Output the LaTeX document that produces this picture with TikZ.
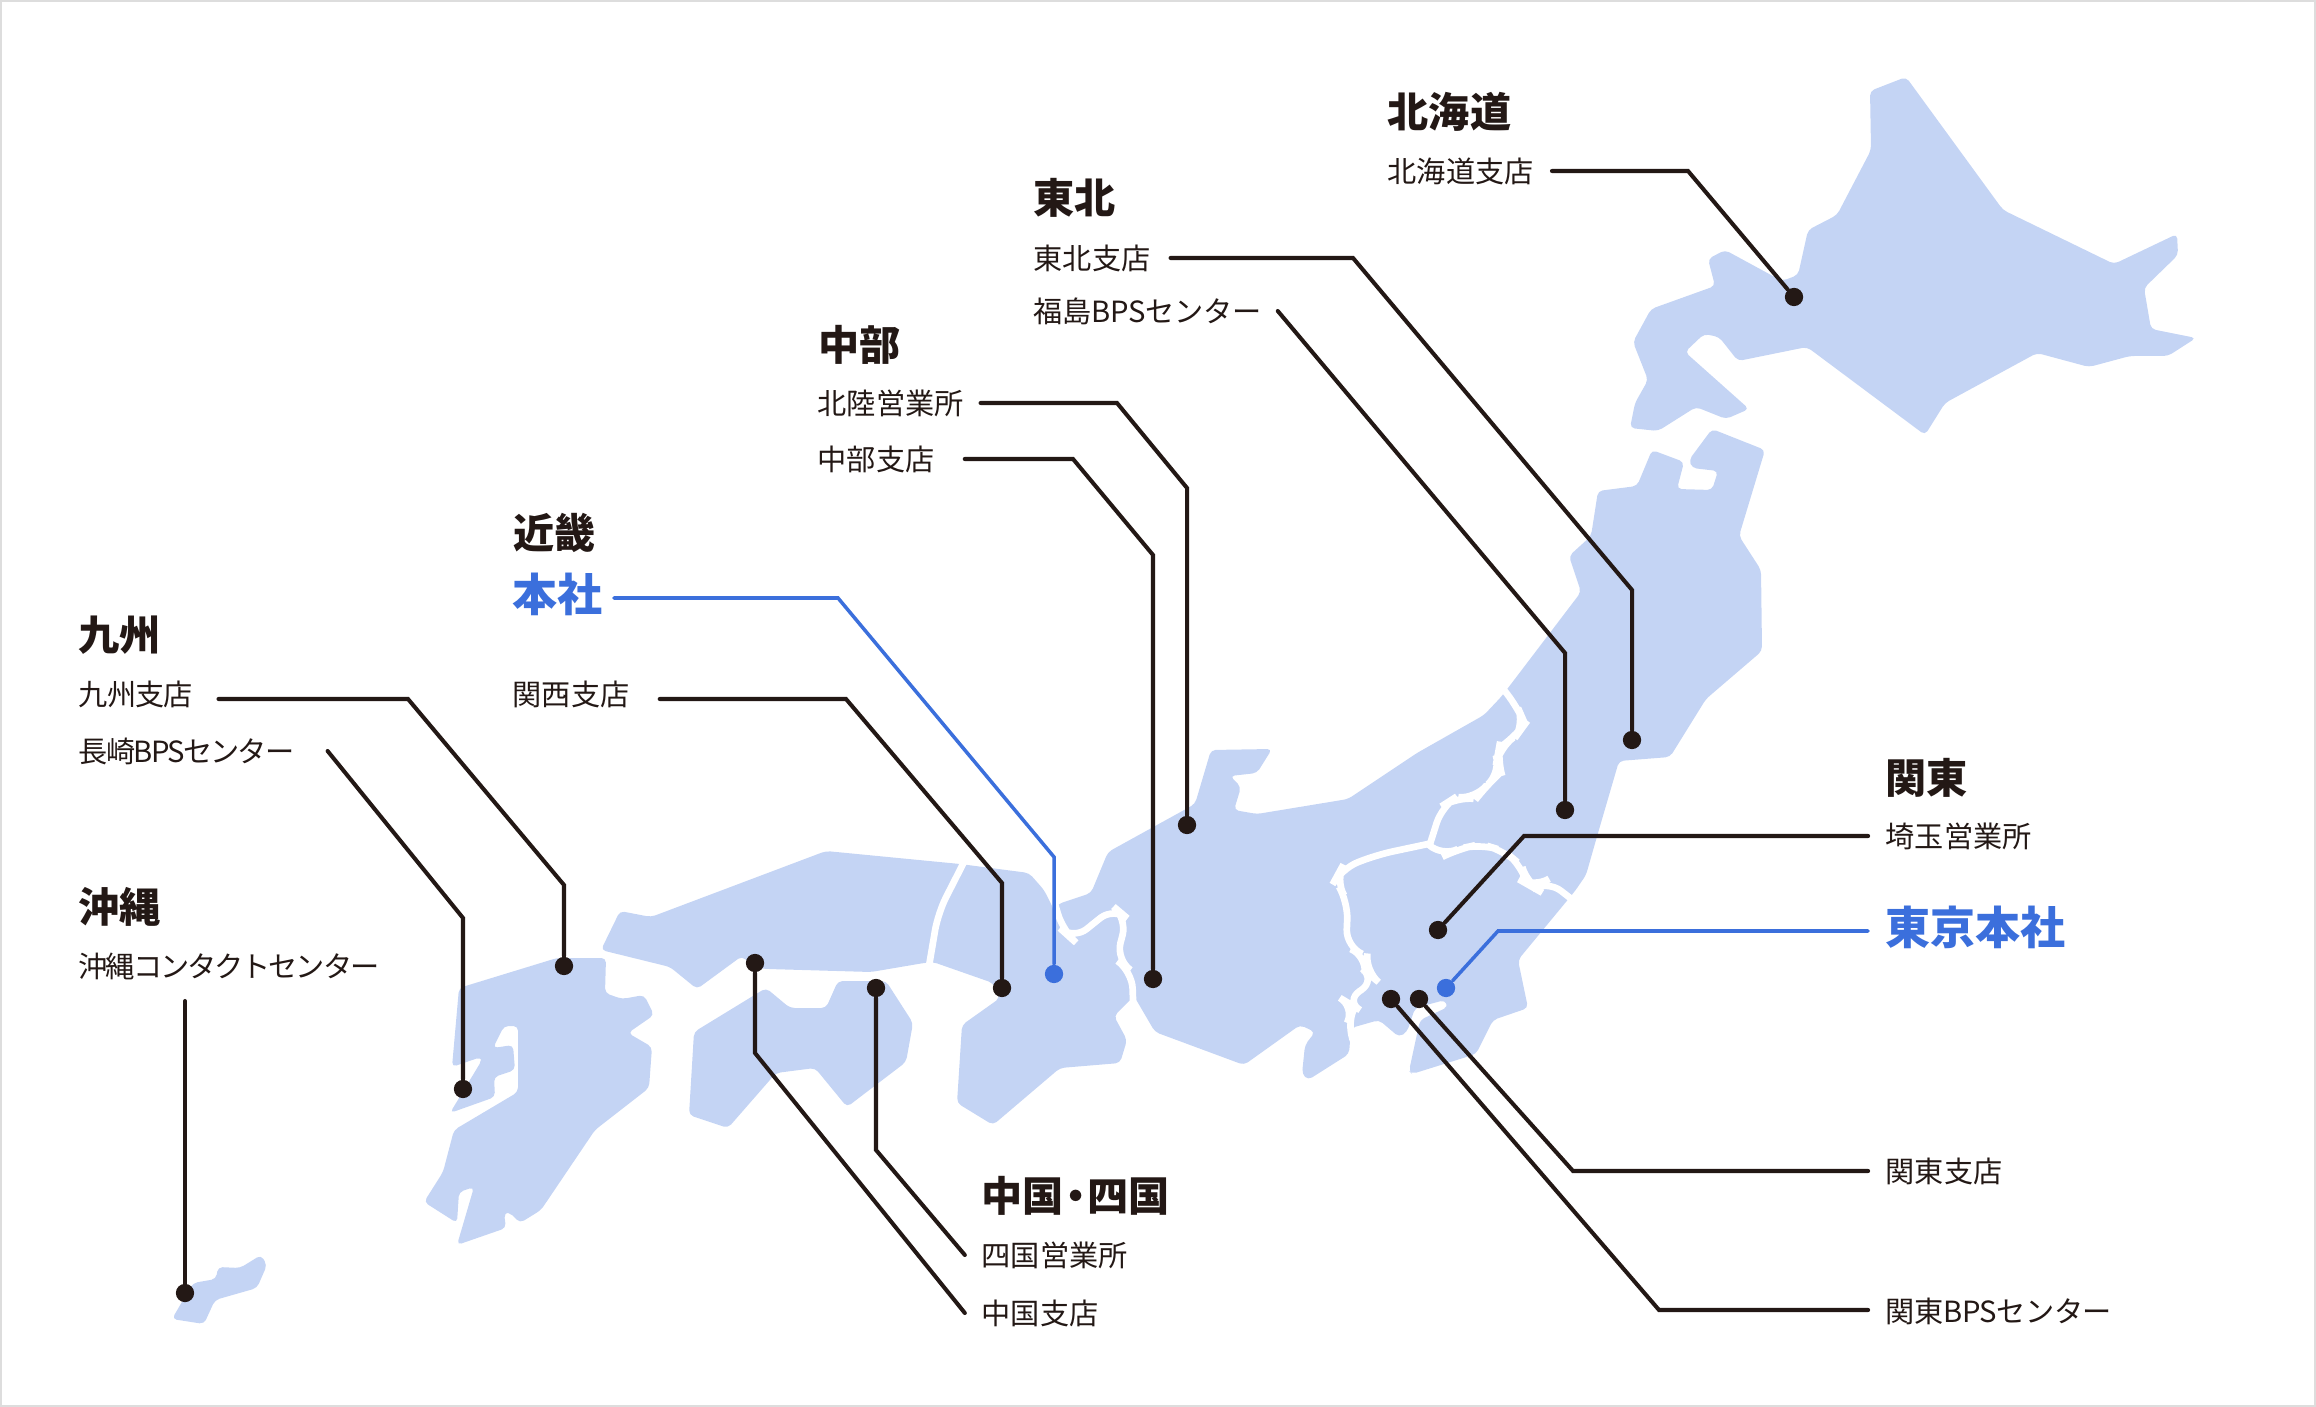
\documentclass[tikz,border=0pt]{standalone}
\usepackage{fontspec}
\setmainfont{Noto Sans CJK JP}
\newfontfamily\boldjp[BoldFont={Noto Sans CJK JP Bold}]{Noto Sans CJK JP}
\definecolor{ink1}{HTML}{231815}
\definecolor{blue1}{HTML}{3B6FDC}
\definecolor{land1}{HTML}{C4D4F4}
\definecolor{frame1}{HTML}{DDDDDD}
\newcommand{\officefont}{\fontsize{8.3}{10}\selectfont}
\tikzset{
  land/.style={fill=land1, rounded corners=1.3pt},
  border/.style={draw=white, line width=1.9pt, rounded corners=5pt, line cap=round},
  dot/.style={circle, fill=ink1, inner sep=0pt, minimum size=5.2pt},
  bluedot/.style={dot, fill=blue1},
  leader/.style={draw=ink1, line width=1.15pt, line cap=round},
  blueleader/.style={draw=blue1, line width=1pt, line cap=round},
  area/.style={anchor=west, inner sep=0pt, text=ink1, font=\fontsize{11.7}{14}\bfseries},
  office/.style={anchor=west, inner sep=0pt, text=ink1, text height=8pt, text depth=1.6pt, font=\officefont},
  main/.style={anchor=west, inner sep=0pt, text=blue1, text height=12pt, text depth=4.4pt, font=\fontsize{12.8}{15}\bfseries},
}
\begin{document}
\begin{tikzpicture}[x=0.01cm, y=-0.01cm]
  \useasboundingbox (0,0) rectangle (2316,1407);
  \draw[frame1, line width=.57pt] (1,1) rectangle (2315,1406);

  % hokkaido
  \path[land] (1906,77) -- (1870,91) -- (1871,150) -- (1837,215) -- (1808,230) -- (1798,275) -- (1782,281)
    -- (1725,250) -- (1708,259) -- (1715,286) -- (1651,309) -- (1633,342) -- (1648,380) -- (1635,403)
    -- (1630,428) -- (1658,431) -- (1696,407) -- (1726,419) -- (1749,409) -- (1685,352) -- (1704,334)
    -- (1719,337) -- (1738,361) -- (1807,347) -- (1925,435) -- (1945,403) -- (2037,353) -- (2089,367)
    -- (2130,356) -- (2168,356) -- (2196,338) -- (2151,329) -- (2144,288) -- (2178,255) -- (2177,234)
    -- (2114,264) -- (2003,210) -- cycle;
  % honshu
  \path[land] (1712,429) -- (1765,450) -- (1739,536) -- (1761,570) -- (1762,651) -- (1706,699) -- (1670,757)
    -- (1619,761) -- (1598,833) -- (1586,875) -- (1575,891) -- (1518,960) -- (1528,1008) -- (1493,1020)
    -- (1476,1054) -- (1412,1074) -- (1409,1071) -- (1420,1020) -- (1448,1007) -- (1445,1000) -- (1415,1008)
    -- (1407,1032) -- (1399,1037) -- (1379,1020) -- (1351,1028) -- (1349,1054) -- (1308,1080) -- (1302,1074)
    -- (1305,1045) -- (1315,1032) -- (1300,1025) -- (1244,1065) -- (1155,1032) -- (1134,996) -- (1114,1016)
    -- (1127,1040) -- (1120,1063) -- (1060,1068) -- (993,1125) -- (957,1103) -- (962,1025) -- (1000,998)
    -- (993,983) -- (933,962) -- (924,963) -- (871,972) -- (768,969) -- (754,968) -- (742,956) -- (697,989)
    -- (670,967) -- (601,950) -- (620,911) -- (651,917) -- (826,851) -- (960,864) -- (1029,873) -- (1044,890)
    -- (1054,910) -- (1058,904) -- (1091,893) -- (1108,852) -- (1195,804) -- (1211,750) -- (1272,749)
    -- (1257,773) -- (1230,776) -- (1241,787) -- (1234,810) -- (1257,814) -- (1348,799) -- (1417,753)
    -- (1484,715) -- (1501,697) -- (1508,688) -- (1581,592) -- (1569,556) -- (1591,536) -- (1598,491)
    -- (1637,486) -- (1652,450) -- (1684,462) -- (1677,489) -- (1712,490) -- (1718,471) -- (1692,468)
    -- (1689,460) -- cycle;
  % shikoku
  \path[land] (694,1032) -- (766,988) -- (790,1008) -- (826,1008) -- (838,981) -- (886,981) -- (913,1023)
    -- (906,1062) -- (847,1107) -- (815,1068) -- (776,1073) -- (728,1128) -- (689,1115) -- cycle;
  % kyushu
  \path[land] (459,988) -- (557,958) -- (606,958) -- (605,993) -- (622,999) -- (644,995) -- (654,1015)
    -- (628,1033) -- (652,1047) -- (649,1088) -- (595,1130) -- (541,1210) -- (520,1223) -- (509,1212)
    -- (504,1213) -- (506,1228) -- (457,1245) -- (474,1187) -- (459,1192) -- (457,1223) -- (424,1202)
    -- (443,1172) -- (454,1130) -- (518,1092) -- (518,1026) -- (504,1026) -- (493,1048) -- (513,1045)
    -- (515,1070) -- (494,1077) -- (495,1097) -- (450,1113) -- (482,1060) -- (481,1057) -- (452,1067) -- cycle;
  % okinawa
  \path[land] (261,1255) -- (267,1265) -- (257,1288) -- (215,1300) -- (204,1324) -- (172,1319) -- (193,1283)
    -- (216,1279) -- (218,1267) -- (240,1268) -- cycle;

  % region borders
  \draw[border] (1504,690) -- (1518,708) -- (1525,724) -- (1517,735) -- (1499,748) -- (1497,759) -- (1501,772)
    -- (1486,786) -- (1476,799) -- (1456,797) -- (1442,806) -- (1430,844);
  \draw[border] (1428,844) -- (1442,857) -- (1458,849) -- (1481,844) -- (1504,851) -- (1522,866) -- (1527,884)
    -- (1534,888) -- (1547,880) -- (1574,901);
  \draw[border] (1428,844) -- (1376,855) -- (1341,869) -- (1335,880) -- (1348,902) -- (1346,947) -- (1367,956)
    -- (1365,971) -- (1376,980) -- (1345,1001) -- (1355,1007) -- (1346,1025) -- (1352,1038);
  \draw[border] (1055,904) -- (1063,931) -- (1073,940) -- (1114,907) -- (1127,918) -- (1116,960) -- (1132,971)
    -- (1133,1000);
  \draw[border] (964,862) -- (938,913) -- (929,966);

  % areas
  \node[area] (hokkaido) at (1387,112) {北海道};
  \node[area] (tohoku) at (1033,198) {東北};
  \node[area] (chubu) at (818,345) {中部};
  \node[area] (kinki) at (513,533) {近畿};
  \node[area] (kyushu) at (78,635) {九州};
  \node[area] (okinawa) at (78,907) {沖縄};
  \node[area] (kanto) at (1885,778) {関東};
  \node[area] (chushi) at (981,1196) {中国\hspace{-2.5pt}・\hspace{-2.5pt}四国};

  % offices
  \node[office] (sapporo) at (1387,171) {北海道支店};
  \node[office] (sendai) at (1033,258) {東北支店};
  \node[office, font=\officefont\addfontfeature{LetterSpace=-1}] (fukushima) at (1033,311) {福島BPSセンター};
  \node[office] (hokuriku) at (817,403) {北陸営業所};
  \node[office] (nagoya) at (817,459) {中部支店};
  \node[main] (honsha) at (512,598) {本社};
  \node[office, text depth=4.4pt] (kansai) at (512,699) {関西支店};
  \node[office, text depth=4.4pt, font=\officefont\addfontfeature{LetterSpace=-3}] (fukuoka) at (78,699) {九州支店};
  \node[office, font=\officefont\addfontfeature{LetterSpace=-6}] (nagasaki) at (78,751) {長崎BPSセンター};
  \node[office, font=\officefont\addfontfeature{LetterSpace=-7}] (naha) at (78,966) {沖縄コンタクトセンター};
  \node[office] (saitama) at (1885,836) {埼玉営業所};
  \node[main] (tokyo) at (1885,931) {東京本社};
  \node[office] (kantoS) at (1885,1171) {関東支店};
  \node[office, text depth=1pt, font=\officefont\addfontfeature{LetterSpace=-1.5}] (kantoB) at (1885,1310) {関東BPSセンター};
  \node[office] (shikoku) at (981,1255) {四国営業所};
  \node[office] (chugoku) at (981,1313) {中国支店};

  % dots
  \node[dot] (d1) at (1794,297) {};
  \node[dot] (d2) at (1632,740) {};
  \node[dot] (d3) at (1565,810) {};
  \node[dot] (d4) at (1187,825) {};
  \node[dot] (d5) at (1153,979) {};
  \node[bluedot] (d6) at (1054,974) {};
  \node[dot] (d7) at (1002,988) {};
  \node[dot] (d8) at (564,966) {};
  \node[dot] (d9) at (463,1089) {};
  \node[dot] (d10) at (185,1293) {};
  \node[dot] (d11) at (755,963) {};
  \node[dot] (d12) at (876,988) {};
  \node[dot] (d13) at (1438,930) {};
  \node[bluedot] (d14) at (1446,988) {};
  \node[dot] (d15) at (1419,999) {};
  \node[dot] (d16) at (1391,999) {};

  % leaders
  \coordinate (nahaEnd) at (185,1001);
  \draw[leader] ([xshift=5pt]sapporo.east) -- (1688,171) -- (d1);
  \draw[leader] ([xshift=5.5pt]sendai.east) -- (1353,258) -- (1632,590) -- (d2);
  \draw[leader] ([xshift=4.5pt]fukushima.east) -- (1565,653) -- (d3);
  \draw[leader] ([xshift=4.6pt]hokuriku.east) -- (1117,403) -- (1187,488) -- (d4);
  \draw[leader] ([xshift=8.4pt]nagoya.east) -- (1073,459) -- (1153,555) -- (d5);
  \draw[blueleader] ([xshift=3pt]honsha.east) -- (838,598) -- (1054,857) -- (d6);
  \draw[leader] ([xshift=8.4pt]kansai.east) -- (846,699) -- (1002,883) -- (d7);
  \draw[leader] ([xshift=7.1pt]fukuoka.east) -- (408,699) -- (564,885) -- (d8);
  \draw[leader] ([xshift=9.2pt]nagasaki.east) -- (463,918) -- (d9);
  \draw[leader] (nahaEnd) -- (d10);
  \draw[leader] ([xshift=-4.6pt]chugoku.west) -- (755,1053) -- (d11);
  \draw[leader] ([xshift=-4.6pt]shikoku.west) -- (876,1150) -- (d12);
  \draw[leader] ([xshift=-4.8pt]saitama.west) -- (1524,836) -- (d13);
  \draw[blueleader] ([xshift=-4.8pt]tokyo.west) -- (1498,931) -- (d14);
  \draw[leader] ([xshift=-4.8pt]kantoS.west) -- (1573,1171) -- (d15);
  \draw[leader] ([xshift=-4.8pt]kantoB.west) -- (1659,1310) -- (d16);
\end{tikzpicture}
\end{document}
